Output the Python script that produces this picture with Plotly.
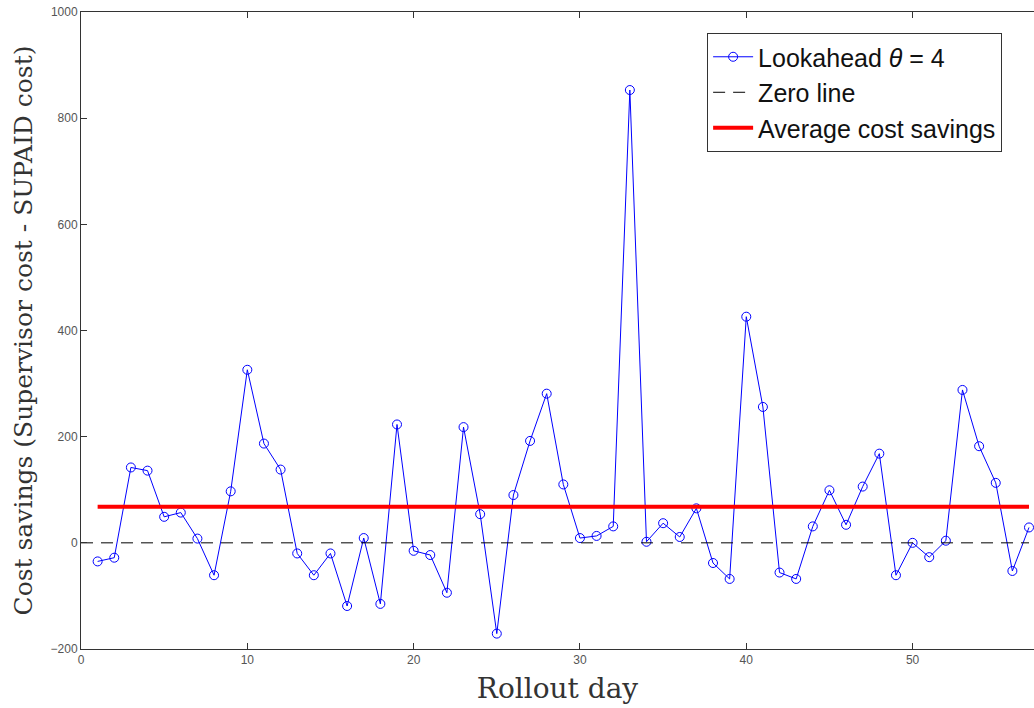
import plotly.graph_objects as go

days = list(range(1, 58))
savings = [-35, -28, 142, 136, 49, 57, 8, -61, 97, 326,
           187, 138, -20, -61, -20, -119, 9, -115, 223, -15,
           -23, -94, 218, 54, -171, 90, 192, 281, 110, 9,
           13, 31, 853, 2, 37, 11, 65, -38, -68, 426,
           256, -56, -68, 31, 99, 34, 106, 168, -61, 0,
           -27, 4, 288, 182, 113, -53, 29]
zero_x = [0, 57]
zero_y = [0, 0]
avg_value = 68
avg_x = [1, 57]
avg_y = [avg_value, avg_value]

fig = go.Figure()
fig.add_trace(go.Scatter(
    x=days, y=savings, mode="lines+markers",
    name="Lookahead <i>θ</i> = 4",
    line=dict(color="#0000ff", width=1),
    marker=dict(symbol="circle-open", size=9, color="#0000ff", line=dict(width=1)),
))
fig.add_trace(go.Scatter(
    x=zero_x, y=zero_y, mode="lines", name="Zero line",
    line=dict(color="black", width=1, dash="12px,8px"),
))
fig.add_trace(go.Scatter(
    x=avg_x, y=avg_y, mode="lines", name="Average cost savings",
    line=dict(color="#ff0000", width=4),
))

fig.update_layout(
    width=1034, height=708,
    margin=dict(l=81, r=0, t=12, b=59),
    paper_bgcolor="white", plot_bgcolor="white",
    showlegend=True,
    legend=dict(
        x=0.657, y=0.967, xanchor="left", yanchor="top",
        bgcolor="white", bordercolor="#333333", borderwidth=1,
        font=dict(family="Liberation Sans, Arial", size=25, color="#111111"),
        tracegroupgap=0, itemwidth=40,
    ),
    xaxis=dict(
        range=[0, 57.3], tickmode="array", tickvals=[0, 10, 20, 30, 40, 50],
        ticks="inside", ticklen=6, tickcolor="#333333",
        showline=True, linecolor="#333333", linewidth=1, mirror="ticks",
        showgrid=False, zeroline=False, automargin=False,
        tickfont=dict(family="Liberation Sans, Arial", size=12, color="#555555"),
        title=dict(text="Rollout day", font=dict(family="DejaVu Serif", size=28, color="#333333"), standoff=11),
    ),
    yaxis=dict(
        range=[-200, 1000], tickmode="array", tickvals=[-200, 0, 200, 400, 600, 800, 1000],
        ticks="inside", ticklen=6, tickcolor="#333333",
        showline=True, linecolor="#333333", linewidth=1,
        showgrid=False, zeroline=False, automargin=False,
        tickfont=dict(family="Liberation Sans, Arial", size=12, color="#555555"),
        title=dict(text="Cost savings (Supervisor cost - SUPAID cost)", font=dict(family="DejaVu Serif", size=25, color="#333333"), standoff=10),
    ),
)

fig.write_html("out.html", config={"displayModeBar": False},
               post_script="document.body.style.margin='0';document.body.style.overflow='hidden';")
